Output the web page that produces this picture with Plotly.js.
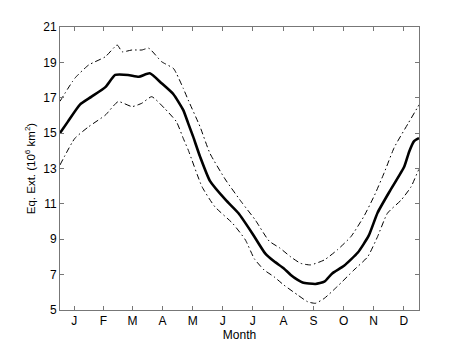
<!DOCTYPE html>
<html>
<head>
<meta charset="utf-8">
<script src="https://cdn.plot.ly/plotly-3.0.1.min.js"></script>
<style>
  html, body { margin: 0; padding: 0; background: #fff; }
  #chart { width: 463px; height: 349px; }
</style>
</head>
<body>
<div id="chart"></div>
<script>
// day of year -> equivalent extent (10^6 km^2)
var meanDays = [1, 9, 21, 33, 47, 57, 70, 81, 92, 104, 116, 126, 131, 136, 143, 153, 169, 182, 196, 209, 218, 228, 235, 242, 247, 260, 269, 277, 289, 303, 314, 323, 336, 350, 355, 360, 365];
var meanVals = [15.0, 15.65, 16.6, 17.06, 17.6, 18.29, 18.29, 18.19, 18.38, 17.82, 17.2, 16.3, 15.55, 14.8, 13.67, 12.3, 11.22, 10.47, 9.33, 8.2, 7.75, 7.35, 6.98, 6.7, 6.55, 6.47, 6.6, 7.07, 7.5, 8.25, 9.2, 10.5, 11.78, 13.1, 13.95, 14.55, 14.72];

var upperDays = [1, 16, 30, 47, 59, 64, 74, 84, 91, 104, 116, 119, 126, 131, 143, 153, 169, 186, 199, 213, 224, 235, 245, 255, 269, 282, 296, 309, 320, 330, 340, 354, 364, 365];
var upperVals = [16.8, 18.1, 18.85, 19.32, 19.98, 19.6, 19.7, 19.7, 19.8, 19.04, 18.66, 18.38, 17.53, 16.87, 15.36, 13.86, 12.35, 11.03, 10.09, 8.9, 8.5, 8.0, 7.64, 7.55, 7.83, 8.39, 9.15, 10.28, 11.5, 12.8, 14.2, 15.55, 16.5, 16.6];

var lowerDays = [1, 16, 30, 47, 60, 74, 84, 94, 107, 119, 126, 131, 145, 158, 176, 189, 198, 208, 218, 228, 242, 252, 260, 269, 282, 299, 313, 323, 333, 347, 357, 364, 365];
var lowerVals = [13.2, 14.7, 15.36, 16.02, 16.78, 16.5, 16.69, 17.06, 16.4, 15.65, 14.7, 14.05, 11.97, 10.84, 9.9, 8.96, 7.9, 7.26, 6.88, 6.41, 5.85, 5.47, 5.38, 5.66, 6.32, 7.26, 8.01, 9.15, 10.47, 11.22, 11.97, 12.85, 12.95];

var monthTicks = [15.5, 45, 74.5, 105, 135.5, 166, 196.5, 227.5, 258, 288.5, 319, 349.5];
var monthLabels = ['J', 'F', 'M', 'A', 'M', 'J', 'J', 'A', 'S', 'O', 'N', 'D'];

var dashDot = '6px,3px,1.5px,3px';

var upper = {
  x: upperDays, y: upperVals,
  type: 'scatter', mode: 'lines',
  line: {color: '#000', width: 1, dash: dashDot, shape: 'spline', smoothing: 0.5},
  hoverinfo: 'none'
};
var lower = {
  x: lowerDays, y: lowerVals,
  type: 'scatter', mode: 'lines',
  line: {color: '#000', width: 1, dash: dashDot, shape: 'spline', smoothing: 0.5},
  hoverinfo: 'none'
};
var mean = {
  x: meanDays, y: meanVals,
  type: 'scatter', mode: 'lines',
  line: {color: '#000', width: 2.6, shape: 'spline', smoothing: 0.5},
  hoverinfo: 'none'
};

var axisCommon = {
  showline: true, linecolor: '#777', linewidth: 1,
  mirror: 'ticks', ticks: 'inside', ticklen: 4, tickcolor: '#777',
  showgrid: false, zeroline: false,
  tickfont: {family: 'Liberation Sans, Arial, sans-serif', size: 12, color: '#000'}
};

var layout = {
  width: 463, height: 349,
  margin: {l: 60, r: 44, t: 27, b: 39},
  paper_bgcolor: '#fff', plot_bgcolor: '#fff',
  showlegend: false,
  font: {family: 'Liberation Sans, Arial, sans-serif', size: 12, color: '#000'}
};

layout.xaxis = Object.assign({}, axisCommon, {
  range: [1, 365],
  tickmode: 'array', tickvals: monthTicks, ticktext: monthLabels,
  title: {text: 'Month', standoff: 2, font: {size: 12}}
});
layout.yaxis = Object.assign({}, axisCommon, {
  range: [5, 21],
  tickmode: 'array', tickvals: [5, 7, 9, 11, 13, 15, 17, 19, 21],
  title: {text: 'Eq. Ext. (10<sup>6</sup> km<sup>2</sup>)', standoff: 5, font: {size: 11.5}}
});

Plotly.newPlot('chart', [upper, lower, mean], layout, {staticPlot: true, displayModeBar: false});
</script>
</body>
</html>
